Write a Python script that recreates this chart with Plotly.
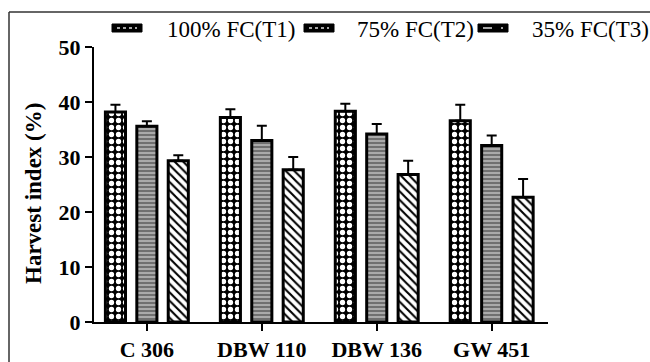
import plotly.graph_objects as go

categories = ["C 306", "DBW 110", "DBW 136", "GW 451"]
series_names = ["100% FC(T1)", "75% FC(T2)", "35% FC(T3)"]
t1_values = [38.2, 37.2, 38.3, 36.6]
t1_err = [1.3, 1.5, 1.4, 2.9]
t2_values = [35.6, 33.0, 34.2, 32.1]
t2_err = [0.9, 2.7, 1.8, 1.8]
t3_values = [29.3, 27.7, 26.8, 22.7]
t3_err = [1.0, 2.3, 2.5, 3.3]
y_ticks = [0, 10, 20, 30, 40, 50]
y_title = "Harvest index (%)"

patterns = [
    dict(shape=".", bgcolor="black", fgcolor="white", size=7, solidity=0.45, fillmode="replace"),
    dict(shape="-", bgcolor="#707070", fgcolor="#c4c4c4", size=4, solidity=0.35, fillmode="replace"),
    dict(shape="\\", bgcolor="white", fgcolor="black", size=6, solidity=0.35, fillmode="replace"),
]

fig = go.Figure()
for name, vals, errs, pat in zip(series_names, [t1_values, t2_values, t3_values],
                                 [t1_err, t2_err, t3_err], patterns):
    fig.add_trace(go.Bar(
        x=categories, y=vals, name=name, showlegend=False,
        marker=dict(color=pat["bgcolor"], pattern=pat, line=dict(color="black", width=3)),
        error_y=dict(type="data", symmetric=False, array=errs, arrayminus=[0] * len(errs),
                     color="black", thickness=2, width=5),
    ))

serif = "Liberation Serif"
L, R, T, B = 94, 102, 47, 40
W, H = 650, 362
pw, ph = W - L - R, H - T - B


def px(x):
    return (x - L) / pw


def py(y):
    return (H - B - y) / ph


fig.update_layout(
    width=W, height=H,
    margin=dict(l=L, r=R, t=T, b=B, autoexpand=False),
    paper_bgcolor="white", plot_bgcolor="white",
    barmode="group", bargap=0.18, bargroupgap=0.36,
    font=dict(family=serif, color="black"),
    showlegend=False,
    xaxis=dict(range=[-0.46, 3.49], showline=True, linecolor="black", linewidth=2, automargin=False,
               ticks="outside", ticklen=7, tickwidth=2, tickcolor="black",
               tickfont=dict(family=serif, size=22, weight="bold"), showgrid=False, zeroline=False),
    yaxis=dict(range=[0, 50], tickvals=y_ticks, showline=True, linecolor="black", linewidth=2,
               automargin=False,
               ticks="outside", ticklen=7, tickwidth=2, tickcolor="black",
               tickfont=dict(family=serif, size=22, weight="bold"), showgrid=False, zeroline=False),
)

fig.add_annotation(text=y_title, xref="paper", yref="paper", x=px(33), y=py(194),
                   xanchor="center", yanchor="middle", textangle=-90, showarrow=False,
                   font=dict(family=serif, size=23, weight="bold", color="black"))

# manual legend (wide black swatches like the reference)
legend_swatch_x = [112, 304, 478]
legend_text_x = [165, 355, 530]
for i, name in enumerate(series_names):
    sx = legend_swatch_x[i]
    fig.add_shape(type="rect", xref="paper", yref="paper",
                  x0=px(sx), x1=px(sx + 30), y0=py(32), y1=py(24),
                  line=dict(color="black", width=1), fillcolor="black")
    fig.add_shape(type="line", xref="paper", yref="paper",
                  x0=px(sx + 5), x1=px(sx + 25), y0=py(28), y1=py(28),
                  line=dict(color="#dddddd", width=1.5, dash="dot" if i != 2 else "dash"))
    fig.add_annotation(text=name, xref="paper", yref="paper", x=px(legend_text_x[i]), y=py(29),
                       xanchor="left", yanchor="middle", showarrow=False,
                       font=dict(family=serif, size=23, color="black"))

# image frame (top and left edges only visible)
fig.add_shape(type="line", xref="paper", yref="paper",
              x0=px(9), x1=px(W), y0=py(12), y1=py(12),
              line=dict(color="#333333", width=1.5), layer="below")
fig.add_shape(type="line", xref="paper", yref="paper",
              x0=px(9), x1=px(9), y0=py(12), y1=py(H),
              line=dict(color="#333333", width=1.5), layer="below")

fig.write_html("out.html")
